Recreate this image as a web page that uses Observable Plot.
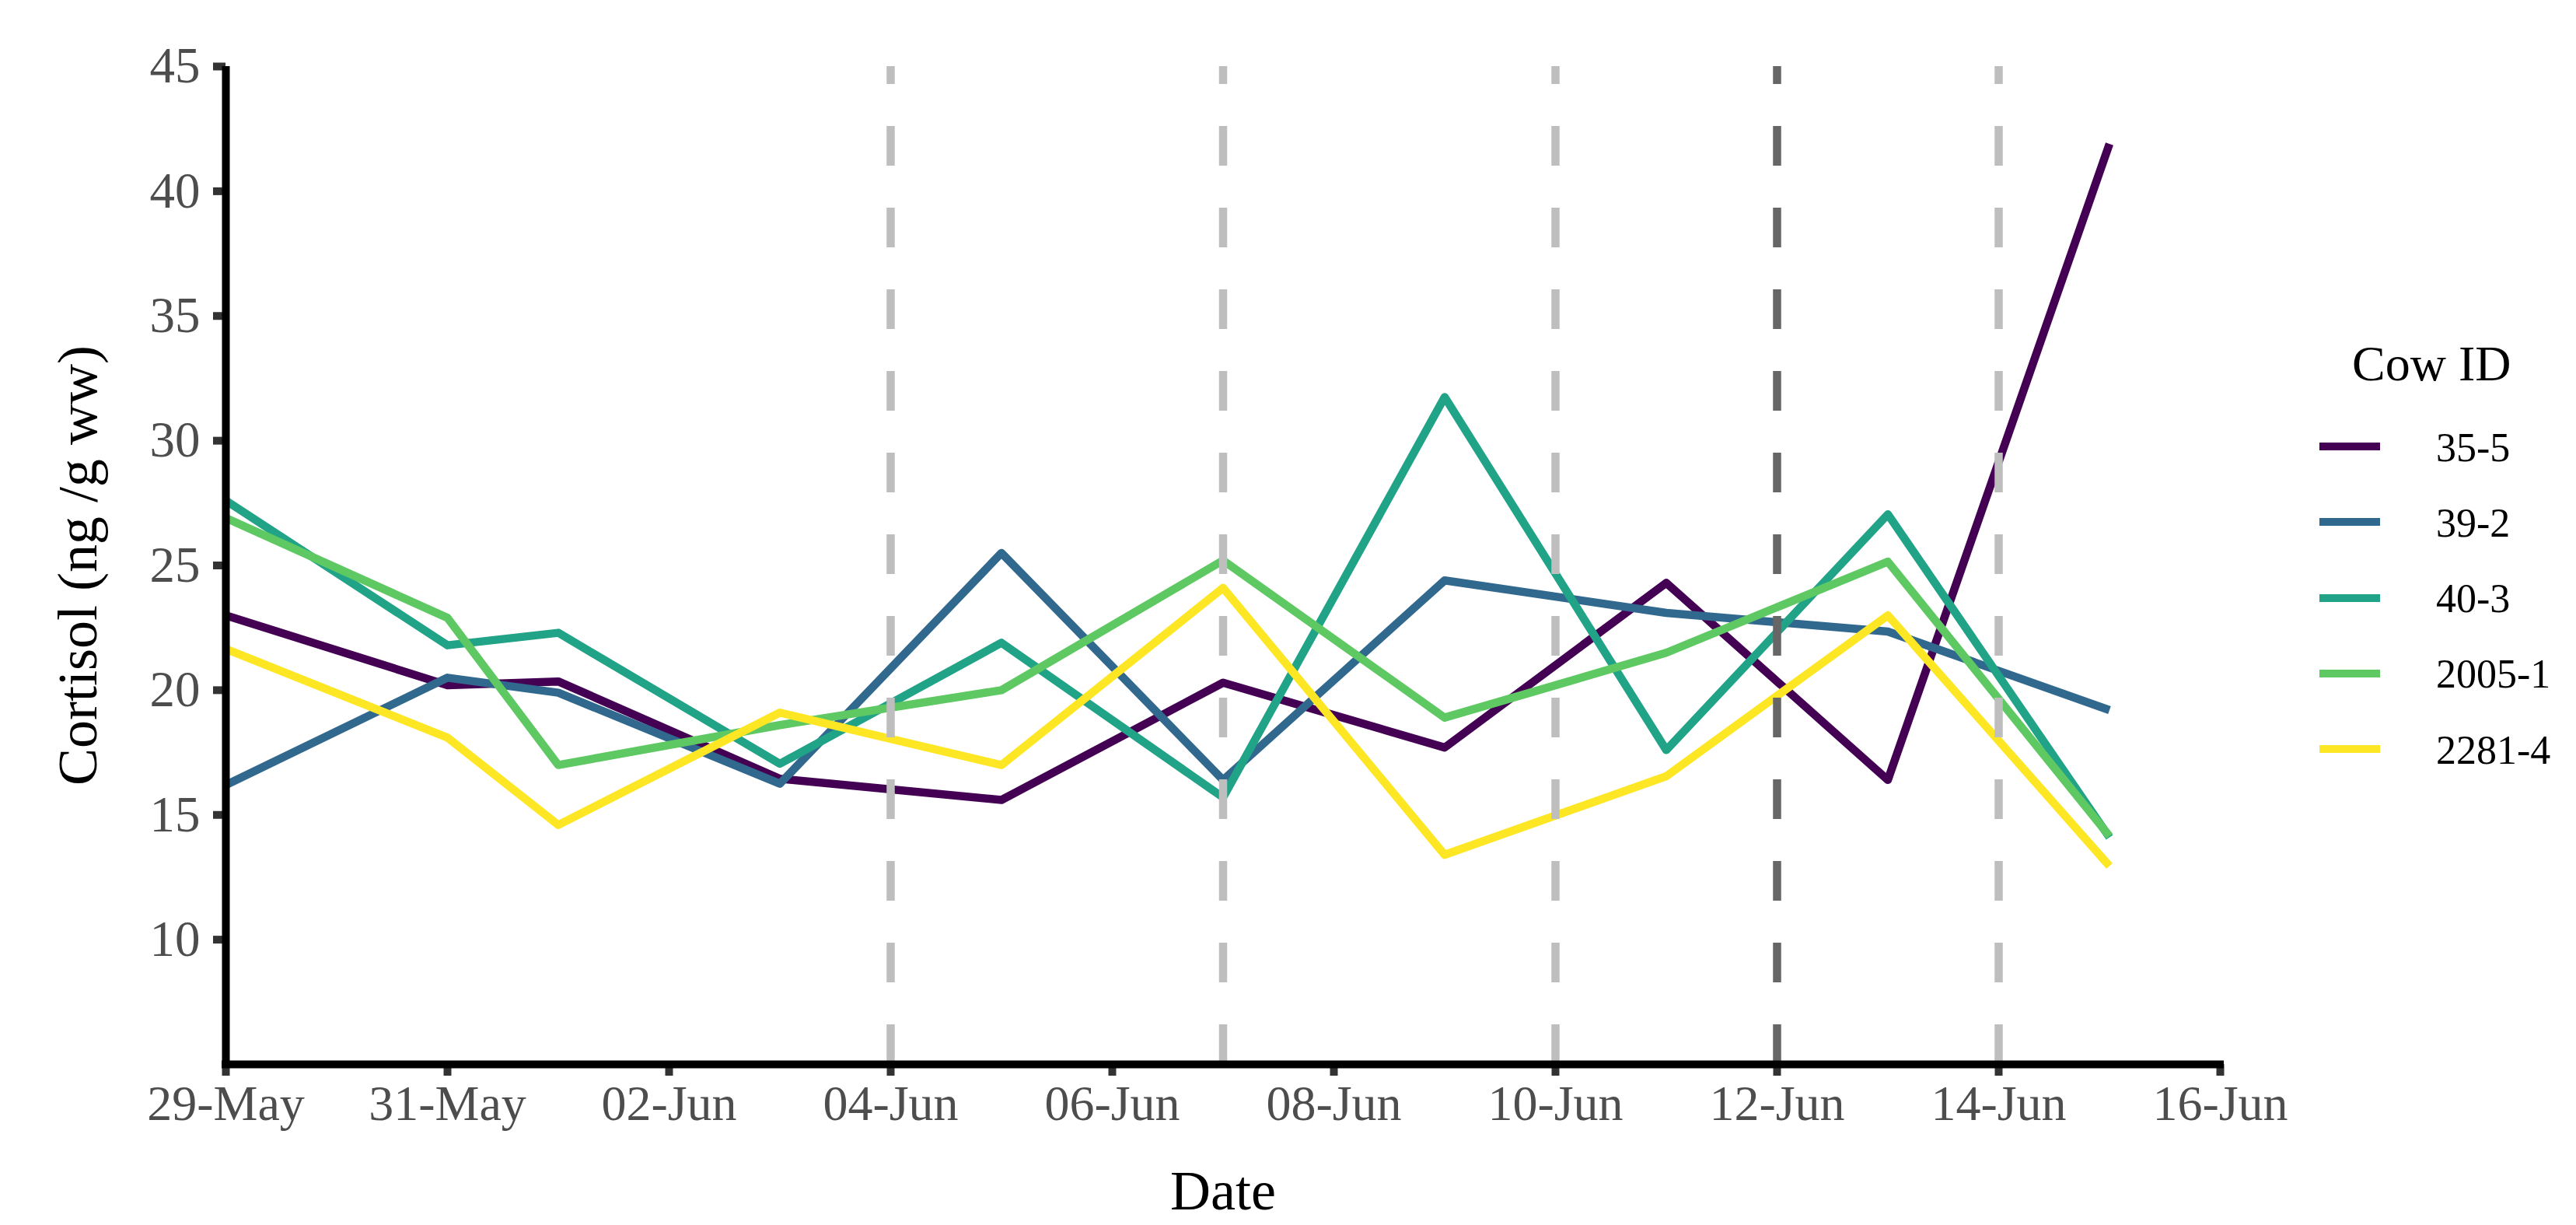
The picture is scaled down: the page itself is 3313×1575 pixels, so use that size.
<!DOCTYPE html>
<html>
<head>
<meta charset="utf-8">
<script src="https://cdn.jsdelivr.net/npm/d3@7"></script>
<script src="https://cdn.jsdelivr.net/npm/@observablehq/plot@0.6"></script>
<style>
  html, body { margin: 0; padding: 0; background: #ffffff; }
  #wrap { position: relative; width: 3313px; height: 1575px; font-family: "Liberation Serif", "Times New Roman", serif; }
  #wrap svg { position: absolute; left: 0; top: 0; }
  .lg-title { position: absolute; font-size: 64px; line-height: 64px; color: #000; white-space: nowrap; }
  .lg-key { position: absolute; height: 10px; }
  .lg-label { position: absolute; font-size: 52px; line-height: 52px; color: #000; white-space: nowrap; }
</style>
</head>
<body>
<div id="wrap"></div>
<script>
// ---------- data ----------
const dates = ["2021-05-29","2021-05-31","2021-06-01","2021-06-03","2021-06-05","2021-06-07","2021-06-09","2021-06-11","2021-06-13","2021-06-15"];
const cows = ["35-5", "39-2", "40-3", "2005-1", "2281-4"];
const cow35_5   = [23.0, 20.2, 20.35, 16.45, 15.6, 20.3, 17.7, 24.3, 16.4, 41.9];
const cow39_2   = [16.2, 20.5, 19.9, 16.25, 25.5, 16.4, 24.4, 23.1, 22.35, 19.2];
const cow40_3   = [27.6, 21.8, 22.3, 17.05, 21.9, 15.7, 31.75, 17.6, 27.05, 14.1];
const cow2005_1 = [26.9, 22.9, 17.0, 18.6, 20.0, 25.2, 18.9, 21.5, 25.15, 14.15];
const cow2281_4 = [21.65, 18.1, 14.6, 19.1, 17.0, 24.1, 13.4, 16.55, 23.0, 12.95];
const colors = ["#440154", "#31688E", "#20A386", "#5EC962", "#FDE725"];
const vLinesLight = ["2021-06-04", "2021-06-07", "2021-06-10", "2021-06-14"];
const vLinesDark = ["2021-06-12"];
const xTicks = ["2021-05-29","2021-05-31","2021-06-02","2021-06-04","2021-06-06","2021-06-08","2021-06-10","2021-06-12","2021-06-14","2021-06-16"];
const yTicks = [10, 15, 20, 25, 30, 35, 40, 45];
const xDomain = ["2021-05-29", "2021-06-16"];
const yDomain = [5, 45];
const xLabel = "Date";
const yLabel = "Cortisol (ng /g ww)";
const legendTitle = "Cow ID";

// ---------- build ----------
const parse = d3.utcParse("%Y-%m-%d");
const seriesList = [cow35_5, cow39_2, cow40_3, cow2005_1, cow2281_4];
const data = cows.flatMap((cow, j) => dates.map((d, i) => ({date: parse(d), value: seriesList[j][i], cow})));
const FONT = "Liberation Serif";
const x0 = parse(xDomain[0]), x1 = parse(xDomain[1]);

const chart = Plot.plot({
  width: 3313,
  height: 1575,
  marginLeft: 290,
  marginRight: 458,
  marginTop: 85,
  marginBottom: 207,
  style: {fontFamily: FONT, background: "white", overflow: "visible"},
  x: {type: "utc", domain: [x0, x1]},
  y: {domain: yDomain},
  color: {domain: cows, range: colors},
  marks: [
    Plot.line(data, {x: "date", y: "value", z: "cow", stroke: "cow", strokeWidth: 10.5, strokeLinejoin: "round", strokeLinecap: "butt"}),
    Plot.ruleX(vLinesLight.map(parse), {y1: yDomain[0], y2: yDomain[1], stroke: "#bebebe", strokeWidth: 10.5, strokeDasharray: "51,54"}),
    Plot.ruleX(vLinesDark.map(parse), {y1: yDomain[0], y2: yDomain[1], stroke: "#666666", strokeWidth: 10.5, strokeDasharray: "51,54"}),
    Plot.axisX(xTicks.map(parse), {
      tickSize: 15, tickPadding: 11, tickFormat: d3.utcFormat("%d-%b"),
      fontSize: 64, fontFamily: FONT, fill: "#4d4d4d", stroke: "#333333", strokeWidth: 10, label: null
    }),
    Plot.axisY(yTicks, {
      tickSize: 16, tickPadding: 17,
      fontSize: 65, fontFamily: FONT, fill: "#4d4d4d", stroke: "#333333", strokeWidth: 10, label: null
    }),
    Plot.ruleX([x0], {y1: yDomain[0], y2: yDomain[1], stroke: "black", strokeWidth: 10}),
    Plot.ruleY([yDomain[0]], {x1: x0, x2: x1, stroke: "black", strokeWidth: 10, strokeLinecap: "square"}),
    Plot.text([yLabel], {text: d => d, frameAnchor: "left", textAnchor: "middle", lineAnchor: "top", rotate: -90, dx: -218, fontSize: 72, fontFamily: FONT, fill: "black"}),
    Plot.text([xLabel], {text: d => d, frameAnchor: "bottom", textAnchor: "middle", lineAnchor: "bottom", dy: 186, fontSize: 72, fontFamily: FONT, fill: "black"})
  ]
});

const wrap = document.getElementById("wrap");
wrap.appendChild(chart);

// ---------- legend ----------
const title = document.createElement("div");
title.className = "lg-title";
title.textContent = legendTitle;
title.style.left = "3025px";
title.style.top = "436px";
wrap.appendChild(title);

cows.forEach((cow, i) => {
  const c = 574 + i * 97.3;
  const key = document.createElement("div");
  key.className = "lg-key";
  key.style.left = "2983px";
  key.style.width = "78px";
  key.style.top = (c - 5) + "px";
  key.style.background = colors[i];
  wrap.appendChild(key);
  const lab = document.createElement("div");
  lab.className = "lg-label";
  lab.textContent = cow;
  lab.style.left = "3133px";
  lab.style.top = (c - 24.5) + "px";
  wrap.appendChild(lab);
});
</script>
</body>
</html>
